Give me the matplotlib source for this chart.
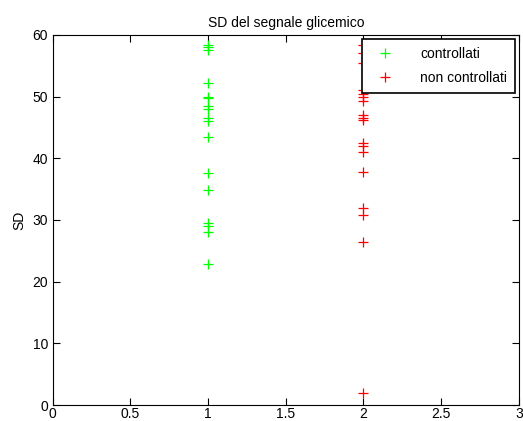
import matplotlib
matplotlib.use('Agg')
import matplotlib.pyplot as plt

plt.rcParams['font.family'] = ['Liberation Sans', 'DejaVu Sans']

# valori SD
controllati = [58.4, 58.0, 57.6, 52.2, 49.9, 49.7, 48.5, 48.0, 46.5, 46.1,
               43.5, 37.6, 34.9, 29.5, 29.0, 28.0, 22.8]
non_controllati = [58.4, 57.0, 55.5, 51.1, 50.5, 50.0, 49.3, 47.0, 46.6, 46.2,
                   42.4, 42.0, 41.1, 37.8, 31.9, 30.8, 26.5, 2.0]

fig = plt.figure(figsize=(5.23, 4.21), dpi=100)
ax = fig.add_axes([0.101, 0.038, 0.891, 0.879])

ax.plot([1] * len(controllati), controllati, '+', color='#00ff00',
        markersize=7.5, markeredgewidth=0.9, label='controllati')
ax.plot([2] * len(non_controllati), non_controllati, '+', color='#ff0000',
        markersize=7.5, markeredgewidth=0.9, label='non controllati')

ax.set_xlim(0, 3)
ax.set_ylim(0, 60)
ax.set_xticks([0, 0.5, 1, 1.5, 2, 2.5, 3])
ax.set_xticklabels(['0', '0.5', '1', '1.5', '2', '2.5', '3'])
ax.set_yticks([0, 10, 20, 30, 40, 50, 60])
ax.tick_params(direction='in', top=True, right=True, labelsize=10, length=5)
ax.tick_params(axis='x', pad=1.5)
ax.set_ylabel('SD', fontsize=10)
ax.set_title('SD del segnale glicemico', fontsize=10)

leg = ax.legend(loc='upper right', fontsize=10, fancybox=False, framealpha=1,
                edgecolor='black', borderaxespad=0.3, handlelength=2.2,
                labelspacing=0.75, borderpad=0.55, handletextpad=1.4)
leg.get_frame().set_linewidth(1.2)

fig.savefig('out.png', dpi=100)
